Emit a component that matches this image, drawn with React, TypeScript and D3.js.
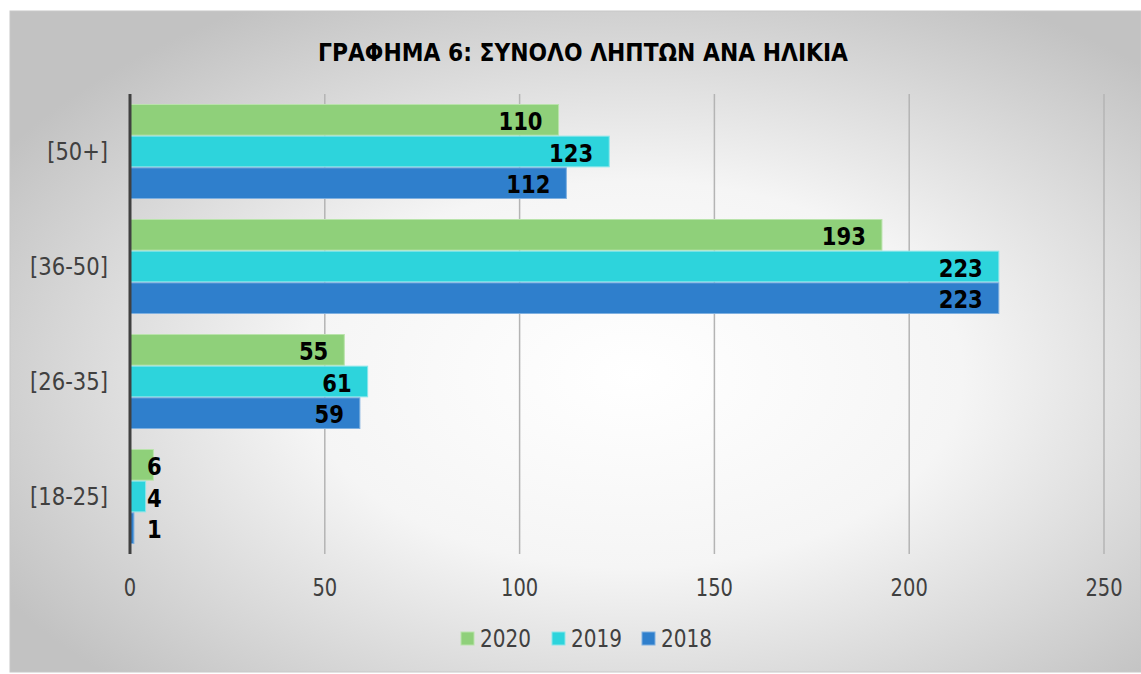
import React from "react";
import * as d3 from "d3";

const categories = ["[50+]", "[36-50]", "[26-35]", "[18-25]"];
const seriesNames = ["2020", "2019", "2018"];
const values2020 = [110, 193, 55, 6];
const values2019 = [123, 223, 61, 4];
const values2018 = [112, 223, 59, 1];
const xTicks = [0, 50, 100, 150, 200, 250];
const title = "ΓΡΑΦΗΜΑ 6: ΣΥΝΟΛΟ ΛΗΠΤΩΝ ΑΝΑ ΗΛΙΚΙΑ";

const colors: Record<string, string> = { "2020": "#8fd07a", "2019": "#2dd4dc", "2018": "#2f7fcc" };
const strokes: Record<string, string> = { "2020": "#b9e3ab", "2019": "#8ae6ea", "2018": "#7fb0e0" };

// approximate text width of a string of the given regular font (Tahoma-like metrics)
function catWidth(s: string) {
  let w = 0;
  for (const ch of s) {
    if (ch === "[" || ch === "]") w += 9;
    else if (ch === "-") w += 10.4;
    else if (ch === "+") w += 18;
    else w += 12.4;
  }
  return w;
}

export default function App() {
  const W = 1141, H = 674;
  const left = 130, right = 1104, top = 94, bottom = 554;
  const x = d3.scaleLinear().domain([0, 250]).range([left, right]);
  const y = d3.scaleBand<string>().domain(categories).range([top, bottom]).paddingInner(0.174).paddingOuter(0.087);
  const ys = d3.scaleBand<string>().domain(seriesNames).range([0, y.bandwidth()]);
  const data: Record<string, number[]> = { "2020": values2020, "2019": values2019, "2018": values2018 };
  const font = "'DejaVu Sans', Verdana, sans-serif";
  const digitW = 14.7;
  const fs = 24;

  return (
    <svg width={W} height={H} style={{ position: "absolute", left: 0, top: 0 }} fontFamily={font}>
      <defs>
        <radialGradient id="bg" cx="55%" cy="55%" r="65%">
          <stop offset="0%" stopColor="#ffffff" />
          <stop offset="45%" stopColor="#f5f5f5" />
          <stop offset="100%" stopColor="#c2c2c2" />
        </radialGradient>
      </defs>
      <rect x={0} y={0} width={W} height={H} fill="#ffffff" />
      <rect x={10} y={11} width={W - 10} height={661} fill="url(#bg)" stroke="#c8c8c8" strokeWidth={1} />
      <text x={583} y={61} textAnchor="middle" fontWeight="bold" fontSize={24} fill="#000" textLength={530} lengthAdjust="spacingAndGlyphs">
        {title}
      </text>
      {xTicks.slice(1).map((t) => (
        <line key={t} x1={x(t)} x2={x(t)} y1={top} y2={bottom} stroke="#b4b4b4" strokeWidth={1.5} />
      ))}
      {categories.map((c, ci) => (
        <g key={c}>
          {seriesNames.map((s) => {
            const v = data[s][ci];
            const by = (y(c) as number) + (ys(s) as number);
            const bh = ys.bandwidth();
            const xe = x(v);
            const tw = String(v).length * digitW;
            const minEnd = left + 17 + tw;
            const tEnd = Math.max(xe - 16, minEnd);
            return (
              <g key={s}>
                <rect x={left} y={by + 0.5} width={xe - left} height={bh - 1} fill={colors[s]} stroke={strokes[s]} strokeWidth={1} />
                <text x={tEnd - tw} y={by + bh / 2 + 10} fontWeight="bold" fontSize={fs} fill="#000" textLength={tw} lengthAdjust="spacingAndGlyphs">
                  {v}
                </text>
              </g>
            );
          })}
          <text x={108 - catWidth(c)} y={(y(c) as number) + y.bandwidth() / 2 + 8.5} fontSize={fs} fill="#404040" textLength={catWidth(c)} lengthAdjust="spacingAndGlyphs">
            {c}
          </text>
        </g>
      ))}
      <line x1={left} x2={left} y1={top} y2={bottom} stroke="#404040" strokeWidth={3} />
      {xTicks.map((t) => {
        const tw = String(t).length * 12.4;
        return (
          <text key={t} x={x(t) - tw / 2} y={596} fontSize={fs} fill="#404040" textLength={tw} lengthAdjust="spacingAndGlyphs">
            {t}
          </text>
        );
      })}
      {seriesNames.map((s, i) => {
        const lx = [461, 552, 642][i];
        return (
          <g key={s}>
            <rect x={lx} y={632} width={13} height={13} fill={colors[s]} stroke={strokes[s]} strokeWidth={1} />
            <text x={lx + 19} y={647} fontSize={fs} fill="#404040" textLength={51} lengthAdjust="spacingAndGlyphs">
              {s}
            </text>
          </g>
        );
      })}
    </svg>
  );
}
